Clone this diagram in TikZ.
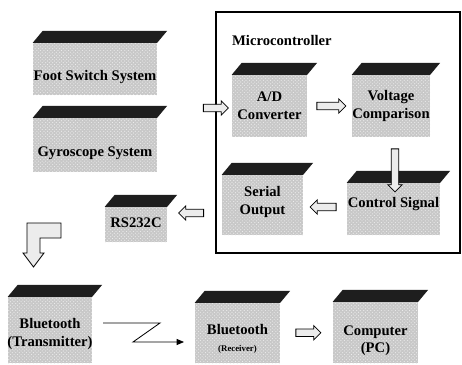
\documentclass[tikz,border=0pt]{standalone}
\usepackage{fontspec}
\setmainfont{Liberation Serif}
\usepackage{tikz}
\usetikzlibrary{arrows.meta, patterns, shapes.arrows, calc}
\newcommand{\pu}{0.03cm}
\definecolor{unitgray}{RGB}{200, 200, 200}
\definecolor{topblack}{RGB}{30, 30, 30}

\tikzset{
    unit/.style={rectangle, inner sep=0pt,
        preaction={fill=unitgray}, pattern=crosshatch dots, pattern color=white!85!gray},
    unittext/.style={align=center, inner sep=0pt, font=\bfseries\fontsize{12.5}{15}\selectfont},
    unittop/.style={fill=topblack},
    blockarrow/.style={single arrow, draw, line width=0.7pt, fill=gray!15, inner sep=0.1cm,
        minimum width=14*\pu, single arrow head extend=0.1cm, minimum height=#1},
    frame/.style={draw, line width=1.2pt, inner sep=0pt},
    title/.style={font=\bfseries\fontsize{12.5}{15}\selectfont}
}

\begin{document}
\begin{tikzpicture}[x=\pu, y=-\pu]
    \useasboundingbox (0,0) rectangle (462,365);

    % Microcontroller frame
    \node[frame, minimum width=244*\pu, minimum height=241*\pu] (mc) at (338,132.5) {};
    \node[title, anchor=west] (mctitle) at (228,40) {Microcontroller};

    % Blocks
    \node[unit, minimum width=124*\pu, minimum height=52*\pu,
        label={[unittext, yshift=-8*\pu]center:Foot Switch System}] (fss) at (95,69) {};
    \node[unit, minimum width=124*\pu, minimum height=54*\pu,
        label={[unittext, yshift=-8*\pu]center:Gyroscope System}] (gyro) at (95,145) {};
    \node[unit, minimum width=75*\pu, minimum height=62*\pu,
        label={[unittext]center:A/D\\Converter}] (ad) at (269.5,106) {};
    \node[unit, minimum width=78*\pu, minimum height=62*\pu,
        label={[unittext]center:Voltage\\Comparison}] (vc) at (391,106) {};
    \node[unit, minimum width=93*\pu, minimum height=52*\pu,
        label={[unittext, yshift=5*\pu]center:Control Signal}] (cs) at (393.5,209) {};
    \node[unit, minimum width=81*\pu, minimum height=60*\pu,
        label={[unittext, yshift=3*\pu]center:Serial\\Output}] (so) at (262.5,205) {};
    \node[unit, minimum width=62*\pu, minimum height=35*\pu,
        label={[unittext, yshift=2*\pu]center:RS232C}] (rs) at (136,224.5) {};
    \node[unit, minimum width=84*\pu, minimum height=66*\pu,
        label={[unittext, yshift=-4*\pu]center:Bluetooth\\(Transmitter)}] (btt) at (50,330) {};
    \node[unit, minimum width=85*\pu, minimum height=60*\pu,
        label={[unittext, yshift=-6*\pu]center:Bluetooth\\{\fontsize{7.5}{9}\selectfont(Receiver)}}] (btr) at (237.5,333) {};
    \node[unit, minimum width=85*\pu, minimum height=61*\pu,
        label={[unittext, yshift=-8*\pu]center:Computer\\(PC)}] (pc) at (375.5,332.5) {};

    % dark top faces
    \foreach \n in {fss,gyro,ad,vc,cs,so,rs,btt,btr,pc} {
        \fill[unittop] (\n.north west) -- (\n.north east) -- ++(10,-12)
            -- ($(\n.north west)+(10,-12)$) -- cycle;
    }

    % block arrows
    \node[blockarrow=25*\pu] (a1) at (214,108) {};
    \node[blockarrow=29*\pu] (a2) at ($(ad.east)!0.5!(vc.west)$) {};
    \node[blockarrow=43*\pu, shape border rotate=270] (a3) at (395,168.5) {};
    \node[blockarrow=26*\pu, shape border rotate=180] (a4) at ($(so.east)!0.5!(cs.west)$) {};
    \node[blockarrow=25*\pu, shape border rotate=180] (a5) at (193,213) {};
    \node[blockarrow=25*\pu] (a6) at ($(btr.east)!0.5!(pc.west)$) {};

    % bent arrow down to the transmitter
    \draw[line width=0.7pt, fill=gray!15] (61,223) -- (27,223) -- (27,253) -- (23,253) -- (33.5,267)
        -- (44,253) -- (40,253) -- (40,238) -- (61,238) -- cycle;

    % wireless link
    \coordinate (z1) at (103,323);
    \coordinate (z2) at (160,323);
    \coordinate (z3) at (133,342);
    \coordinate (z4) at (184,342);
    \draw[line width=0.7pt, -{Triangle[length=2.2mm, width=1.8mm]}] (z1) -- (z2) -- (z3) -- (z4);
\end{tikzpicture}
\end{document}
